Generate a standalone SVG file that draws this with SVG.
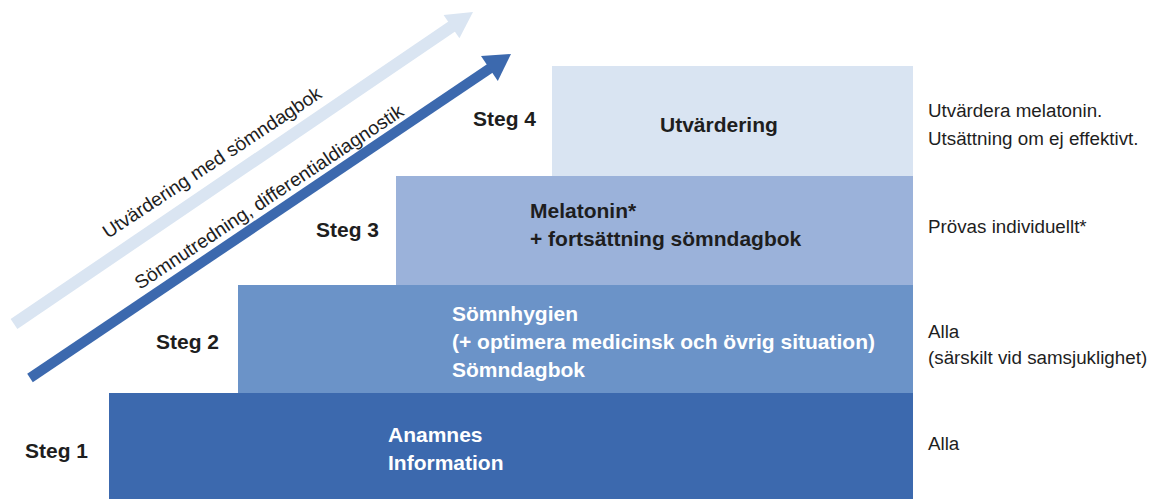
<svg xmlns="http://www.w3.org/2000/svg" width="1153" height="499" viewBox="0 0 1153 499">
<style>
.step{font-family:"Liberation Sans",Arial,sans-serif;font-weight:bold;font-size:21px;fill:#1e1e1e}
.nt{font-family:"Liberation Sans",Arial,sans-serif;font-weight:bold;font-size:21px}
.w{fill:#ffffff}
.d{fill:#1e1e1e}
.side{font-family:"Liberation Sans",Arial,sans-serif;font-size:18.8px;fill:#1e1e1e}
.al{font-family:"Liberation Sans",Arial,sans-serif;font-size:19px;fill:#1e1e1e}
</style>
<rect width="1153" height="499" fill="#ffffff"/>
<g id="step1">
<rect x="109" y="393" width="804" height="106" fill="#3c69ae"/>
<text class="nt w" x="388" y="442">Anamnes</text>
<text class="nt w" x="388" y="470">Information</text>
<text class="step" x="25" y="458">Steg 1</text>
<text class="side" x="928" y="450">Alla</text>
</g>
<g id="step2">
<rect x="238" y="285" width="675" height="108" fill="#6b93c8"/>
<text class="nt w" x="452" y="321">Sömnhygien</text>
<text class="nt w" x="452" y="349">(+ optimera medicinsk och övrig situation)</text>
<text class="nt w" x="452" y="377">Sömndagbok</text>
<text class="step" x="156" y="349">Steg 2</text>
<text class="side" x="928" y="338">Alla</text>
<text class="side" x="928" y="364">(särskilt vid samsjuklighet)</text>
</g>
<g id="step3">
<rect x="396" y="176" width="517" height="109" fill="#9bb2da"/>
<text class="nt d" x="530" y="218">Melatonin*</text>
<text class="nt d" x="530" y="246">+ fortsättning sömndagbok</text>
<text class="step" x="316" y="237">Steg 3</text>
<text class="side" x="928" y="233">Prövas individuellt*</text>
</g>
<g id="step4">
<rect x="552" y="66" width="361" height="110" fill="#d9e4f2"/>
<text class="nt d" x="660" y="132">Utvärdering</text>
<text class="step" x="473" y="126">Steg 4</text>
<text class="side" x="928" y="117">Utvärdera melatonin.</text>
<text class="side" x="928" y="145">Utsättning om ej effektivt.</text>
</g>
<g id="connectors">
<line x1="14" y1="324" x2="454" y2="25" stroke="#dae5f2" stroke-width="12"/>
<polygon points="473,12 443.6,15 459.4,38.2" fill="#dae5f2"/>
<line x1="30" y1="378" x2="492" y2="67" stroke="#3c69ae" stroke-width="10"/>
<polygon points="511,54 481,56.1 497.8,80.9" fill="#3c69ae"/>
<text class="al" transform="translate(108,239) rotate(-33.5)" textLength="258" lengthAdjust="spacingAndGlyphs">Utvärdering med sömndagbok</text>
<text class="al" transform="translate(140,290) rotate(-33.5)" textLength="318" lengthAdjust="spacingAndGlyphs">Sömnutredning, differentialdiagnostik</text>
</g>
</svg>
